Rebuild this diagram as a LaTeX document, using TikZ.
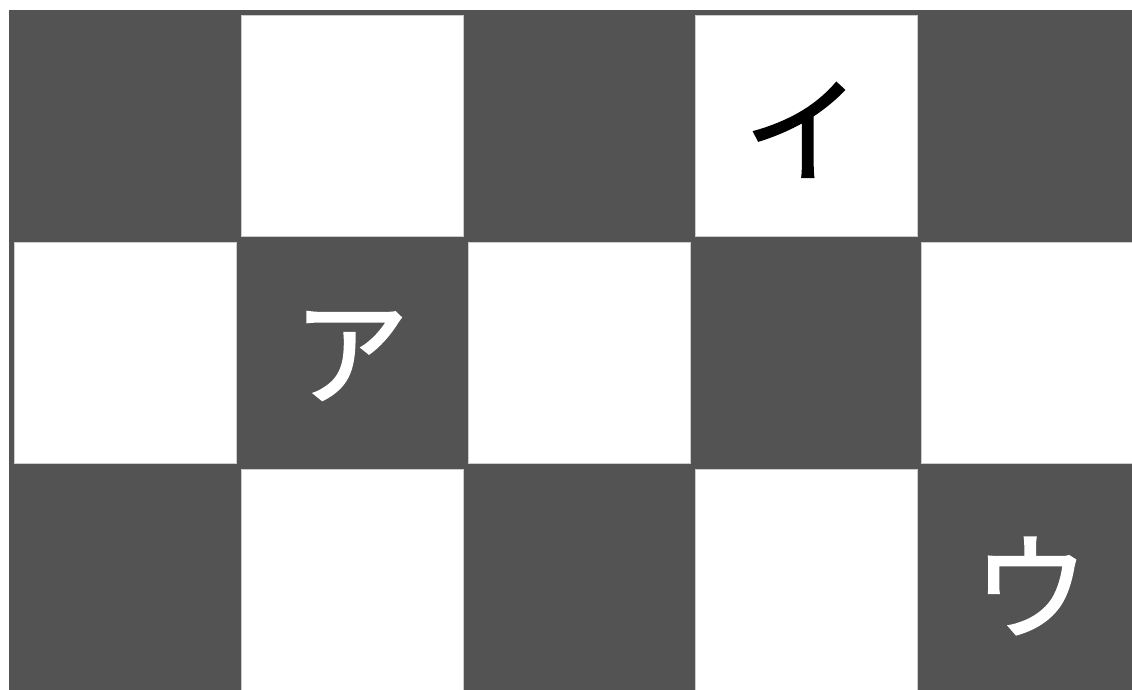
\documentclass[tikz,border=0pt]{standalone}
\usepackage{fontspec}
\newfontfamily\jpfont[FakeBold=1.6]{Noto Sans CJK JP}
\definecolor{tiledark}{HTML}{535353}
\begin{document}
\begin{tikzpicture}[x=1pt,y=-1pt,
  whitesq/.style={fill=white,draw=white!80!black,line width=0.6pt},
  kana/.style={font=\jpfont\fontsize{116}{116}\selectfont,inner sep=0pt}]
\useasboundingbox (0,0) rectangle (1132,690);
\fill[tiledark] (9,10) rectangle (1132,690);
% row 1 whites
\draw[whitesq] (241,15) rectangle (463,236);
\draw[whitesq] (695,15) rectangle (917,236);
% row 2 whites
\draw[whitesq] (14,242) rectangle (236,463);
\draw[whitesq] (468,242) rectangle (690,463);
\draw[whitesq] (921,242) rectangle (1140,463);
% row 3 whites
\draw[whitesq] (241,469) rectangle (463,695);
\draw[whitesq] (695,469) rectangle (917,695);
\node[kana,text=black] (i) at (802,130) {イ};
\node[kana,text=white] (a) at (351,356) {ア};
\node[kana,text=white] (u) at (1031,586) {ウ};
\end{tikzpicture}
\end{document}
